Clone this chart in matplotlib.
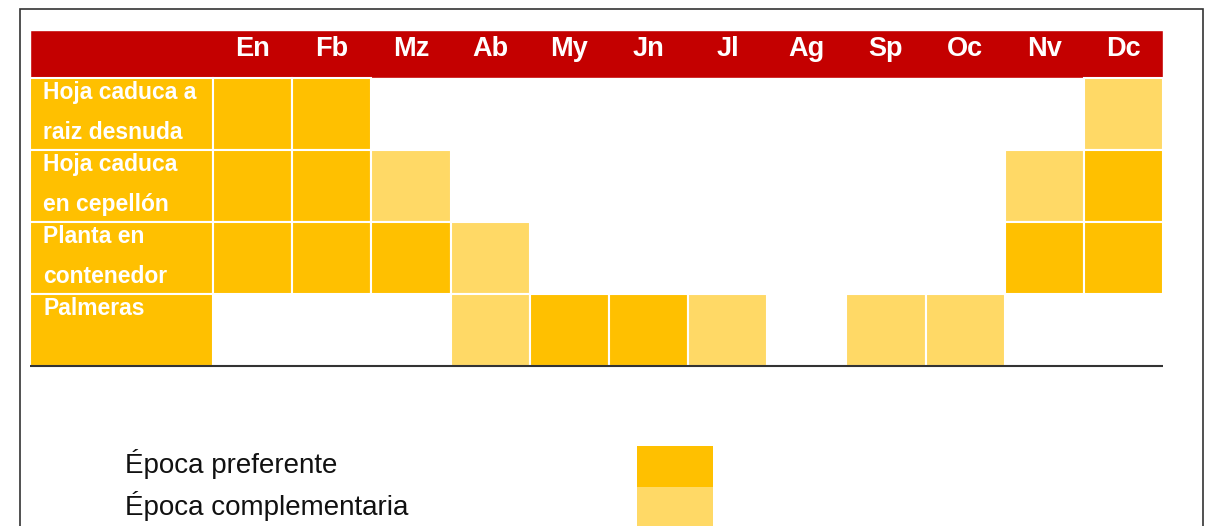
import numpy as np
import matplotlib
matplotlib.use("Agg")
from matplotlib import pyplot as plt
from matplotlib.patches import Rectangle

plt.rcParams['font.family'] = ['Liberation Sans', 'DejaVu Sans']

months = ['En', 'Fb', 'Mz', 'Ab', 'My', 'Jn', 'Jl', 'Ag', 'Sp', 'Oc', 'Nv', 'Dc']
rows = [['Hoja caduca a', 'raiz desnuda'],
        ['Hoja caduca', 'en cepellón'],
        ['Planta en', 'contenedor'],
        ['Palmeras']]
# 2 = preferente, 1 = complementaria, 0 = nada
hoja_raiz = [2, 2, 0, 0, 0, 0, 0, 0, 0, 0, 0, 1]
hoja_cepellon = [2, 2, 1, 0, 0, 0, 0, 0, 0, 0, 1, 2]
contenedor = [2, 2, 2, 1, 0, 0, 0, 0, 0, 0, 2, 2]
palmeras = [0, 0, 0, 1, 2, 2, 1, 0, 1, 1, 0, 0]
legend_labels = ['Época preferente', 'Época complementaria']

red = '#C40000'
dark = '#FFC000'
light = '#FFD966'
colors = {1: light, 2: dark}

W, H = 1208, 526
fig = plt.figure(figsize=(W / 100, H / 100), dpi=100)

# outer frame
fig.patches.append(Rectangle((20 / W, -0.05), 1183 / W, 1 - 9 / H + 0.05,
                             transform=fig.transFigure, fill=False,
                             edgecolor='#333333', lw=1.2))

colw = (1163 - 213) / 12
rowh = 72
lab_w = (213 - 30) / colw
head_h = 48 / rowh
y_bot = (H - 78) / rowh

ax = fig.add_axes([30 / W, 0, 1133 / W, 1 - 30 / H])
ax.set_xlim(-lab_w, 12)
ax.set_ylim(y_bot, -head_h)
ax.axis('off')

# header
ax.barh(-head_h, 12 + lab_w, left=-lab_w, height=head_h, align='edge', color=red,
        edgecolor='white', lw=1.0)
for i, m in enumerate(months):
    ax.text(i + 0.5, -0.31, m, color='white', fontsize=19.5,
            fontweight='bold', ha='center', va='baseline')

data = [hoja_raiz, hoja_cepellon, contenedor, palmeras]
for r, (vals, lab) in enumerate(zip(data, rows)):
    ax.barh(r, lab_w, left=-lab_w, height=1, align='edge', color=dark,
            edgecolor='white', lw=1.5)
    for j, line in enumerate(lab):
        ax.text(-lab_w + 0.17, r + 0.29 + 0.56 * j, line, color='white', fontsize=16.5,
                fontweight='bold', ha='left', va='baseline')
    for i, v in enumerate(vals):
        if v:
            ax.barh(r, 1, left=i, height=1, align='edge', color=colors[v],
                    edgecolor='white', lw=1.5)

ax.hlines(len(rows), -lab_w, 12, color='#333333', lw=1.5)

# legend
sw_x = (637 - 213) / colw
sw_w = 76 / colw
sw_y = (446 - 78) / rowh
sw_h = 41 / rowh
for k, (lab, c) in enumerate(zip(legend_labels, [dark, light])):
    ax.barh(sw_y + k * sw_h, sw_w, left=sw_x, height=sw_h, align='edge', color=c)
    ax.text((125 - 213) / colw, (464 - 78 + k * 42) / rowh, lab, fontsize=20,
            color='#111111', ha='left', va='center')

fig.savefig('out.png', dpi=100)
